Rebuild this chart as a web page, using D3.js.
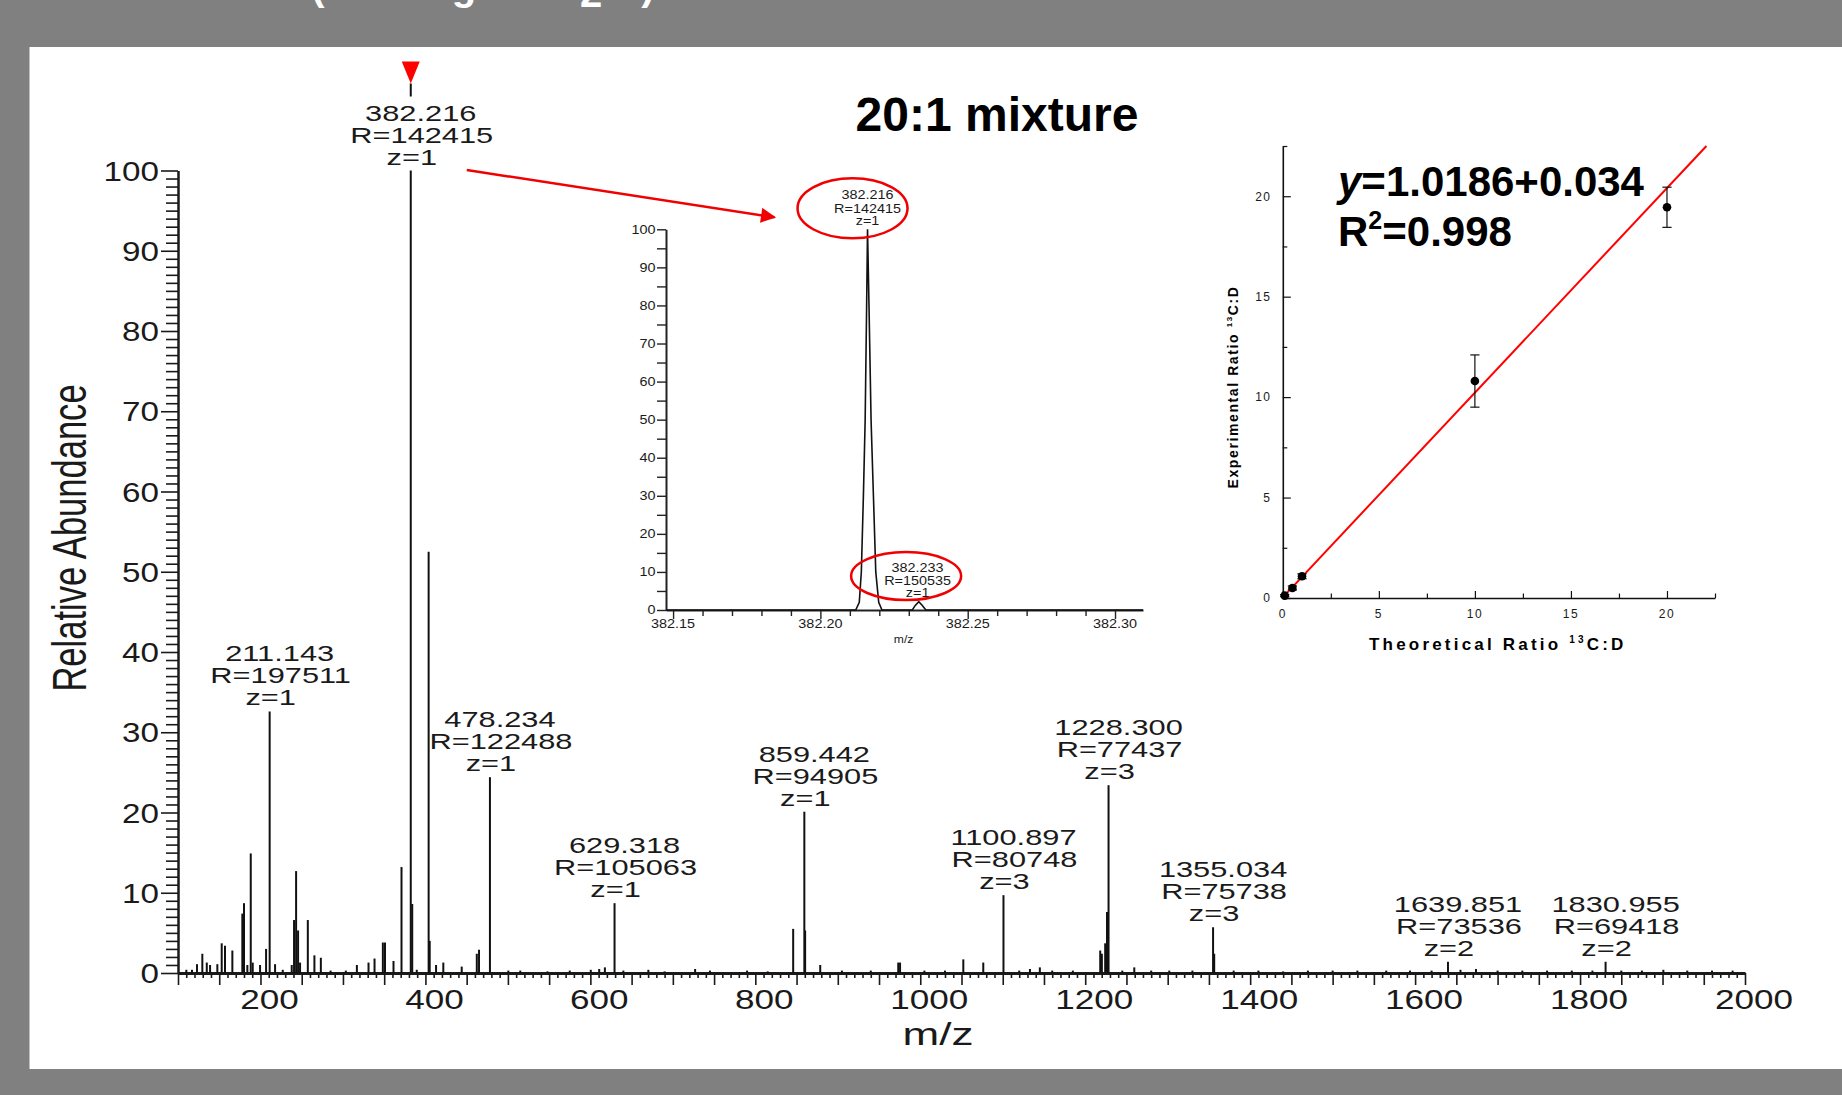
<!DOCTYPE html>
<html>
<head>
<meta charset="utf-8">
<script src="https://cdn.jsdelivr.net/npm/d3@7"></script>
<style>
  body { margin: 0; background: #808080; }
  svg { display: block; }
  text { font-family: "Liberation Sans", Arial, sans-serif; fill: #1a1a1a; }
</style>
</head>
<body>
<div id="chart"></div>
<script>
// ---- labelled peaks of the full spectrum ----
let peakMz = [211.143, 382.216, 478.234, 629.318, 859.442, 1100.897, 1228.300, 1355.034, 1639.851, 1830.955];
let peakRes = [197511, 142415, 122488, 105063, 94905, 80748, 77437, 75738, 73536, 69418];
let peakZ = [1, 1, 1, 1, 1, 3, 3, 3, 2, 2];
let peakInt = [32.6, 100, 24.4, 8.7, 20.1, 9.7, 23.4, 5.7, 1.4, 1.4];

// ---- other (unlabelled) peaks ----
let otherMz = [110.1, 117.0, 123.0, 129.5, 134.9, 138.9, 147.7, 153.0, 157.0, 165.9, 178.0, 180.0, 184.1, 188.2, 190.6,
  199.5, 206.8, 217.7, 227.0, 237.9, 240.7, 243.2, 245.6, 248.0, 257.4, 265.4, 273.2, 285.0, 303.5, 316.9, 331.0,
  338.3, 348.4, 351.0, 361.3, 371.0, 384.0, 389.5, 403.9, 405.2, 412.9, 421.7, 444.0, 462.3, 465.0,
  500.5, 515.0, 548.0, 575.0, 600.5, 610.7, 617.6, 640.0, 670.3, 690.0, 727.0, 745.0, 790.0, 815.0, 845.9, 860.4,
  878.7, 905.0, 940.0, 973.3, 975.5, 1005.0, 1030.0, 1052.2, 1076.4, 1120.0, 1133.0, 1145.0, 1160.0, 1185.0,
  1218.2, 1220.2, 1224.2, 1226.4, 1245.0, 1259.5, 1280.0, 1301.9, 1330.0, 1356.4, 1380.0, 1410.0, 1440.0, 1470.0,
  1500.0, 1530.0, 1565.0, 1593.8, 1620.0, 1655.0, 1673.8, 1700.0, 1730.0, 1760.0, 1790.0, 1815.0, 1850.0, 1875.0,
  1901.0, 1930.0, 1960.0, 1985.0];
let otherInt = [0.4, 0.4, 1.1, 2.4, 1.3, 1.0, 1.1, 3.7, 3.4, 2.8, 7.4, 8.7, 1.0, 14.9, 1.3,
  1.0, 3.0, 1.1, 0.4, 1.0, 6.6, 12.7, 5.3, 1.3, 6.6, 2.2, 1.9, 0.3, 0.3, 1.0, 1.3,
  1.8, 3.8, 3.8, 1.5, 13.2, 8.6, 0.4, 52.5, 4.0, 1.0, 1.3, 0.8, 2.4, 2.9,
  0.3, 0.3, 0.2, 0.3, 0.4, 0.5, 0.7, 0.3, 0.4, 0.2, 0.5, 0.3, 0.3, 0.2, 5.5, 5.3,
  1.0, 0.3, 0.3, 1.3, 1.3, 0.3, 0.3, 1.7, 1.3, 0.3, 0.5, 0.7, 0.3, 0.3,
  2.8, 2.4, 3.7, 7.6, 0.3, 0.7, 0.3, 0.3, 0.3, 2.4, 0.3, 0.3, 0.2, 0.3,
  0.3, 0.3, 0.3, 0.3, 0.3, 0.4, 0.5, 0.3, 0.3, 0.3, 0.3, 0.3, 0.3, 0.3,
  0.4, 0.3, 0.3, 0.3];

let mainYTicks = [0, 10, 20, 30, 40, 50, 60, 70, 80, 90, 100];
let mainXTicks = [200, 400, 600, 800, 1000, 1200, 1400, 1600, 1800, 2000];

// ---- zoomed profile of the 382 region ----
let zoomMz = [382.1476, 382.2000, 382.2120, 382.2132, 382.2139, 382.2146, 382.2152, 382.2157, 382.2160, 382.2165,
  382.2172, 382.2180, 382.2188, 382.2198, 382.2209, 382.2312, 382.2322, 382.2334, 382.2346, 382.2358, 382.3095];
let zoomInt = [0, 0, 0, 2, 10, 30, 50, 80, 100, 80, 50, 30, 10, 2, 0, 0, 1.2, 2.2, 1.2, 0, 0];
let zoomPeakMz = [382.216, 382.233];
let zoomPeakRes = [142415, 150535];
let zoomPeakInt = [100, 2.2];
let zoomXTicks = [382.15, 382.20, 382.25, 382.30];
let zoomYTicks = [0, 10, 20, 30, 40, 50, 60, 70, 80, 90, 100];

// ---- calibration ----
let ratioTheo = [0.1, 0.5, 1, 10, 20];
let ratioExp = [0.12, 0.5, 1.08, 10.8, 19.45];
let ratioErr = [0.05, 0.1, 0.12, 1.3, 1.0];
let fitSlope = 1.0186;
let fitIntercept = 0.034;
let fitR2 = 0.998;
let calTicks = [0, 5, 10, 15, 20];

var W = 1842, H = 1095;
var svg = d3.select("#chart").append("svg").attr("width", W).attr("height", H);

svg.append("rect").attr("width", W).attr("height", H).attr("fill", "#808080");
svg.append("rect").attr("x", 29.5).attr("y", 47).attr("width", W - 29.5).attr("height", 1022).attr("fill", "#fff");

// title line of the slide, cut off at the top edge
var topBits = [["(", 318, -0.5], ["g", 464, -0.5], ["2", 591, 6.7], [")", 648, -0.5]];
topBits.forEach(function (b) {
    svg.append("text").attr("x", b[1]).attr("y", b[2]).attr("text-anchor", "middle")
        .style("font-size", "40px").style("font-weight", "bold").style("fill", "#fff").text(b[0]);
});

// helper for horizontally stretched text
function sText(g, x, y, str, size, sx, anchor) {
    return g.append("text")
        .attr("transform", "translate(" + x + "," + y + ") scale(" + sx + ",1)")
        .attr("text-anchor", anchor || "middle")
        .style("font-size", size + "px")
        .text(str);
}

// ================= main spectrum =================
var xMain = d3.scaleLinear().domain([100, 2000]).range([178, 1745]);
var yMain = d3.scaleLinear().domain([0, 100]).range([973, 170.5]);
var gMain = svg.append("g");

// y axis
var yAx = gMain.append("g").attr("transform", "translate(178,0)")
    .call(d3.axisLeft(yMain).tickValues(d3.range(0, 101, 1)).tickSize(12).tickSizeOuter(0).tickFormat(""));
yAx.select(".domain").attr("stroke", "#1a1a1a").attr("stroke-width", 2.5);
yAx.selectAll(".tick line").attr("stroke", "#1a1a1a").attr("stroke-width", 1.6)
    .attr("x2", function (d) { return d % 10 === 0 ? -17 : -12; });
mainYTicks.forEach(function (v) {
    sText(gMain, 159, yMain(v) + 10, String(v), 27, 1.23, "end");
});

// x axis
var xAx = gMain.append("g").attr("transform", "translate(0," + yMain(0) + ")")
    .call(d3.axisBottom(xMain).tickValues(d3.range(100, 2001, 10)).tickSize(5).tickSizeOuter(0).tickFormat(""));
xAx.select(".domain").attr("stroke", "#1a1a1a").attr("stroke-width", 3);
xAx.selectAll(".tick line").attr("stroke", "#1a1a1a").attr("stroke-width", 1.6)
    .attr("y2", function (d) { return d % 50 === 0 ? 12 : 5; });
mainXTicks.forEach(function (v) {
    sText(gMain, xMain(v) + 9, 1009, String(v), 27, 1.3, "middle");
});

// axis titles
gMain.append("text")
    .attr("transform", "translate(85.7,538) rotate(-90) scale(0.705,1)")
    .attr("text-anchor", "middle").style("font-size", "49px").text("Relative Abundance");
sText(gMain, 938, 1045, "m/z", 31, 1.42, "middle");

// peaks
var allMz = otherMz.concat(peakMz);
var allInt = otherInt.concat(peakInt);
gMain.selectAll("line.pk")
    .data(allMz)
    .enter()
    .append("line")
    .attr("class", "pk")
    .attr("x1", function (d) { return xMain(d); })
    .attr("x2", function (d) { return xMain(d); })
    .attr("y1", yMain(0))
    .attr("y2", function (d, i) { return yMain(allInt[i]); })
    .attr("stroke", "#111")
    .attr("stroke-width", 2);

// peak labels
peakMz.forEach(function (m, i) {
    var px = xMain(m), py = yMain(peakInt[i]);
    sText(gMain, px + 10, py - 50, m.toFixed(3), 22, 1.4, "middle");
    sText(gMain, px + 11, py - 28, "R=" + peakRes[i], 22, 1.4, "middle");
    sText(gMain, px + 1, py - 6, "z=" + peakZ[i], 22, 1.4, "middle");
});

// marker over the base peak
var bx = xMain(peakMz[1]);
var by = yMain(100);
gMain.append("line").attr("x1", bx).attr("x2", bx).attr("y1", by - 87).attr("y2", by - 74)
    .attr("stroke", "#111").attr("stroke-width", 2);
gMain.append("path")
    .attr("d", "M" + (bx - 9) + "," + (by - 109) + "L" + (bx + 9) + "," + (by - 109) + "L" + bx + "," + (by - 87) + "Z")
    .attr("fill", "#ff0000");

// title
svg.append("text").attr("x", 997).attr("y", 131).attr("text-anchor", "middle")
    .style("font-size", "48px").style("font-weight", "bold").style("fill", "#000").text("20:1 mixture");

// ================= zoom inset =================
var xIn = d3.scaleLinear().domain([382.1476, 382.3095]).range([666, 1143]);
var yIn = d3.scaleLinear().domain([0, 100]).range([610, 229.3]);
var gIn = svg.append("g");

var yInAx = gIn.append("g").attr("transform", "translate(666,0)")
    .call(d3.axisLeft(yIn).tickValues(d3.range(0, 101, 5)).tickSize(9).tickSizeOuter(0).tickFormat(""));
yInAx.select(".domain").attr("stroke", "#222").attr("stroke-width", 2);
yInAx.selectAll(".tick line").attr("stroke", "#222").attr("stroke-width", 1.4);
zoomYTicks.forEach(function (v) {
    sText(gIn, 655.5, yIn(v) + 4.3, String(v), 12, 1.2, "end");
});

var xInAx = gIn.append("g").attr("transform", "translate(0," + yIn(0) + ")")
    .call(d3.axisBottom(xIn).tickValues(d3.range(0, 16).map(function (k) { return 382.15 + k * 0.01; }))
        .tickSize(6).tickSizeOuter(0).tickFormat(""));
xInAx.select(".domain").attr("stroke", "#222").attr("stroke-width", 2);
xInAx.selectAll(".tick line").attr("stroke", "#222").attr("stroke-width", 1.4)
    .attr("y2", function (d, i) { return i % 5 === 0 ? 9 : 6; });
zoomXTicks.forEach(function (v) {
    sText(gIn, xIn(v), 628.3, v.toFixed(2), 12, 1.2, "middle");
});
sText(gIn, 903.6, 642.7, "m/z", 11, 1.1, "middle");

var profLine = d3.line()
    .x(function (d) { return xIn(d); })
    .y(function (d, i) { return yIn(zoomInt[i]); });
gIn.append("path").datum(zoomMz).attr("d", profLine)
    .attr("fill", "none").attr("stroke", "#111").attr("stroke-width", 1.6);

zoomPeakMz.forEach(function (m, i) {
    var px = xIn(m), py = yIn(zoomPeakInt[i]);
    sText(gIn, px, py - 30, m.toFixed(3), 12, 1.2, "middle");
    sText(gIn, px, py - 16.8, "R=" + zoomPeakRes[i], 12, 1.2, "middle");
    sText(gIn, px, py - 4.3, "z=1", 12, 1.2, "middle");
});

// red circles around the zoomed labels
gIn.append("ellipse").attr("cx", xIn(zoomPeakMz[0]) - 15).attr("cy", yIn(100) - 21)
    .attr("rx", 55).attr("ry", 30).attr("fill", "none").attr("stroke", "#f00000").attr("stroke-width", 2.5);
gIn.append("ellipse").attr("cx", xIn(zoomPeakMz[1]) - 11.5).attr("cy", yIn(zoomPeakInt[1]) - 25.6)
    .attr("rx", 55).attr("ry", 24).attr("fill", "none").attr("stroke", "#f00000").attr("stroke-width", 2.5);

// arrow from the base peak to the inset
svg.append("defs").append("marker")
    .attr("id", "arr").attr("viewBox", "0 0 10 10").attr("refX", 9).attr("refY", 5)
    .attr("markerWidth", 7).attr("markerHeight", 6).attr("markerUnits", "strokeWidth").attr("orient", "auto")
    .append("path").attr("d", "M0,0L10,5L0,10Z").attr("fill", "#f00000");
svg.append("line")
    .attr("x1", xMain(peakMz[1]) + 56).attr("y1", yMain(100) - 0.5)
    .attr("x2", xIn(zoomPeakMz[0]) - 93).attr("y2", yIn(100) - 12)
    .attr("stroke", "#f00000").attr("stroke-width", 2.5).attr("marker-end", "url(#arr)");

// ================= calibration inset =================
var xCal = d3.scaleLinear().domain([0, 22.5]).range([1282.8, 1715]);
var yCal = d3.scaleLinear().domain([0, 22.5]).range([598, 146]);
var gCal = svg.append("g");

var xCalAx = gCal.append("g").attr("transform", "translate(0," + yCal(0) + ")")
    .call(d3.axisBottom(xCal).tickValues(d3.range(0, 22.6, 2.5)).tickSizeInner(-7).tickSizeOuter(0).tickFormat(""));
xCalAx.select(".domain").attr("stroke", "#111").attr("stroke-width", 1.6);
xCalAx.selectAll(".tick line").attr("stroke", "#111").attr("stroke-width", 1.2)
    .attr("y2", function (d) { return d % 5 === 0 ? -7 : -4.5; });
var yCalAx = gCal.append("g").attr("transform", "translate(" + xCal(0) + ",0)")
    .call(d3.axisLeft(yCal).tickValues(d3.range(0, 22.6, 2.5)).tickSizeInner(-8).tickSizeOuter(0).tickFormat(""));
yCalAx.select(".domain").attr("stroke", "#111").attr("stroke-width", 1.6);
yCalAx.selectAll(".tick line").attr("stroke", "#111").attr("stroke-width", 1.2)
    .attr("x2", function (d) { return d % 5 === 0 ? 8 : 4.5; });

calTicks.forEach(function (v) {
    gCal.append("text").attr("x", xCal(v)).attr("y", 617.5).attr("text-anchor", "middle")
        .style("font-size", "12px").style("letter-spacing", "1.5px").text(String(v));
    gCal.append("text").attr("x", 1271.5).attr("y", yCal(v) + 4.3).attr("text-anchor", "end")
        .style("font-size", "12px").style("letter-spacing", "1.5px").text(String(v));
});

var xt = gCal.append("text").attr("x", 1497.8).attr("y", 649.6).attr("text-anchor", "middle")
    .style("font-size", "17px").style("font-weight", "bold").style("letter-spacing", "3.2px").style("fill", "#000");
xt.append("tspan").text("Theoretical Ratio ");
xt.append("tspan").attr("dy", -7).style("font-size", "10px").text("13");
xt.append("tspan").attr("dy", 7).text("C:D");

var yt = gCal.append("text").attr("transform", "translate(1237.5,387) rotate(-90)").attr("text-anchor", "middle")
    .style("font-size", "14px").style("font-weight", "bold").style("letter-spacing", "1.6px").style("fill", "#000");
yt.append("tspan").text("Experimental Ratio ");
yt.append("tspan").attr("dy", -6).style("font-size", "8px").text("13");
yt.append("tspan").attr("dy", 6).text("C:D");

// fit line
var fitEnd = (22.5 - fitIntercept) / fitSlope;
gCal.append("line")
    .attr("x1", xCal(0)).attr("y1", yCal(fitIntercept))
    .attr("x2", xCal(fitEnd)).attr("y2", yCal(fitSlope * fitEnd + fitIntercept))
    .attr("stroke", "#ff0000").attr("stroke-width", 2);

// error bars + points
ratioTheo.forEach(function (t, i) {
    var cx = xCal(t);
    var hi = yCal(ratioExp[i] + ratioErr[i]), lo = yCal(ratioExp[i] - ratioErr[i]);
    gCal.append("line").attr("x1", cx).attr("x2", cx).attr("y1", hi).attr("y2", lo).attr("stroke", "#111").attr("stroke-width", 1.2);
    gCal.append("line").attr("x1", cx - 4.6).attr("x2", cx + 4.6).attr("y1", hi).attr("y2", hi).attr("stroke", "#111").attr("stroke-width", 1.2);
    gCal.append("line").attr("x1", cx - 4.6).attr("x2", cx + 4.6).attr("y1", lo).attr("y2", lo).attr("stroke", "#111").attr("stroke-width", 1.2);
});
gCal.selectAll("circle")
    .data(ratioTheo)
    .enter()
    .append("circle")
    .attr("cx", function (d) { return xCal(d); })
    .attr("cy", function (d, i) { return yCal(ratioExp[i]); })
    .attr("r", 4.3)
    .attr("fill", "#000");

// equation
var eq = gCal.append("text").attr("x", 1338).attr("y", 195.5)
    .style("font-size", "42px").style("font-weight", "bold").style("fill", "#000");
eq.append("tspan").style("font-style", "italic").text("y");
eq.append("tspan").text("=" + fitSlope + "+" + fitIntercept);
var r2 = gCal.append("text").attr("x", 1338).attr("y", 245.5)
    .style("font-size", "42px").style("font-weight", "bold").style("fill", "#000");
r2.append("tspan").text("R");
r2.append("tspan").attr("dy", -17).style("font-size", "25px").text("2");
r2.append("tspan").attr("dy", 17).text("=" + fitR2);
</script>
</body>
</html>
